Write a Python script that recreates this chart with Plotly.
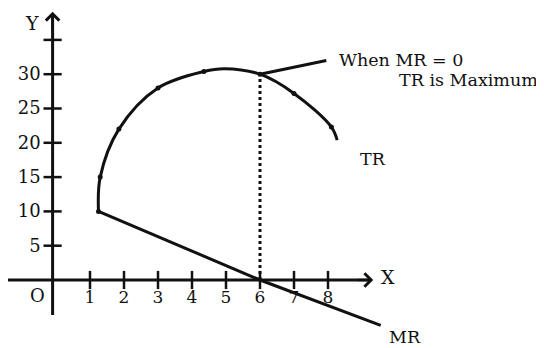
import plotly.graph_objects as go

# ---------------- data ----------------
tr_q = [1.25, 1.3, 1.85, 3.0, 4.35, 4.95, 6.0, 7.0, 8.1, 8.27]
tr_v = [10, 15, 22, 28, 30.4, 30.8, 30, 27.2, 22.3, 20.4]
tr_dot = [True, True, True, True, True, False, True, True, True, False]

mr_q = [1.25, 6.0, 9.55]
mr_v = [10, 0, -6.6]

x_ticks = [1, 2, 3, 4, 5, 6, 7, 8]
x_tick_labels = ["1", "2", "3", "4", "5", "6", "7", "8"]
y_ticks = [5, 10, 15, 20, 25, 30, 35]
y_tick_labels = ["5", "10", "15", "20", "25", "30", ""]

q_at_max = 6          # MR = 0 here
tr_max = 30           # TR at maximum
leader_end = (7.95, 32)

# axis extents / placement (layout constants)
X_AXIS_FROM, X_AXIS_TO = -1.45, 9.33
Y_AXIS_FROM, Y_AXIS_TO = -5.1, 39.1
Y_AXIS_AT = -0.1

# pixel scale of the drawing (page body has an 8px margin)
PX_X0, PX_PER_X = 48, 34.0
PX_Y0, PX_PER_Y = 272, 6.86
W, H = 544, 348

FONT = "DejaVu Serif"
INK = "#111111"

fig = go.Figure()

# axes lines
fig.add_trace(go.Scatter(x=[X_AXIS_FROM, X_AXIS_TO - 0.1], y=[0, 0], mode="lines",
                         line=dict(color=INK, width=3), hoverinfo="skip"))
fig.add_trace(go.Scatter(x=[Y_AXIS_AT, Y_AXIS_AT], y=[Y_AXIS_FROM, Y_AXIS_TO - 0.6], mode="lines",
                         line=dict(color=INK, width=3), hoverinfo="skip"))

# tick marks
fig.add_trace(go.Scatter(x=x_ticks, y=[0] * len(x_ticks), mode="markers",
                         marker=dict(symbol="line-ns", size=13, line=dict(width=2.5, color=INK)),
                         hoverinfo="skip"))
fig.add_trace(go.Scatter(x=[Y_AXIS_AT] * len(y_ticks), y=y_ticks, mode="markers",
                         marker=dict(symbol="line-ew", size=13, line=dict(width=2.5, color=INK)),
                         hoverinfo="skip"))

# tick labels
fig.add_trace(go.Scatter(x=x_ticks, y=[-2.75] * len(x_ticks), mode="text", text=x_tick_labels,
                         textposition="middle center", cliponaxis=False,
                         textfont=dict(family=FONT, size=17, color=INK), hoverinfo="skip"))
fig.add_trace(go.Scatter(x=[-0.45] * len(y_ticks), y=[v - 0.2 for v in y_ticks], mode="text",
                         text=y_tick_labels, textposition="middle left", cliponaxis=False,
                         textfont=dict(family=FONT, size=18, color=INK), hoverinfo="skip"))

# dotted vertical at MR = 0
fig.add_trace(go.Scatter(x=[q_at_max, q_at_max], y=[0, tr_max], mode="lines",
                         line=dict(color=INK, width=3, dash="dot"), hoverinfo="skip"))

# TR curve
fig.add_trace(go.Scatter(x=tr_q, y=tr_v, mode="lines",
                         line=dict(color=INK, width=3, shape="spline", smoothing=1.0), name="TR"))
fig.add_trace(go.Scatter(x=[q for q, d in zip(tr_q, tr_dot) if d], y=[v for v, d in zip(tr_v, tr_dot) if d],
                         mode="markers", marker=dict(color=INK, size=5), hoverinfo="skip"))

# MR line
fig.add_trace(go.Scatter(x=mr_q, y=mr_v, mode="lines", line=dict(color=INK, width=3), name="MR"))

# leader line for annotation
fig.add_trace(go.Scatter(x=[q_at_max, leader_end[0]], y=[tr_max, leader_end[1]], mode="lines",
                         line=dict(color=INK, width=3), hoverinfo="skip"))

annotations = [
    # arrow heads
    dict(x=X_AXIS_TO, y=0, ax=X_AXIS_TO - 0.5, ay=0, xref="x", yref="y", axref="x", ayref="y",
         showarrow=True, arrowhead=4, arrowsize=1.0, arrowwidth=2.6, arrowcolor=INK, text=""),
    dict(x=Y_AXIS_AT, y=Y_AXIS_TO, ax=Y_AXIS_AT, ay=Y_AXIS_TO - 3, xref="x", yref="y", axref="x", ayref="y",
         showarrow=True, arrowhead=4, arrowsize=1.0, arrowwidth=2.6, arrowcolor=INK, text=""),
    dict(x=9.75, y=0.4, text="X", showarrow=False, xanchor="center", yanchor="middle",
         font=dict(family=FONT, size=19, color=INK)),
    dict(x=-0.72, y=37.4, text="Y", showarrow=False, xanchor="center", yanchor="middle",
         font=dict(family=FONT, size=19, color=INK)),
    dict(x=-0.54, y=-2.2, text="O", showarrow=False, xanchor="center", yanchor="middle",
         font=dict(family=FONT, size=18, color=INK)),
    dict(x=8.26, y=32.1, text="When MR = 0", showarrow=False, xanchor="left", yanchor="middle",
         font=dict(family=FONT, size=17.5, color=INK)),
    dict(x=10.02, y=29.15, text="TR is Maximum", showarrow=False, xanchor="left", yanchor="middle",
         font=dict(family=FONT, size=17.5, color=INK)),
    dict(x=8.89, y=17.7, text="TR", showarrow=False, xanchor="left", yanchor="middle",
         font=dict(family=FONT, size=17.5, color=INK)),
    dict(x=9.73, y=-8.3, text="MR", showarrow=False, xanchor="left", yanchor="middle",
         font=dict(family=FONT, size=17.5, color=INK)),
]

fig.update_layout(
    width=W, height=H,
    margin=dict(l=0, r=0, t=0, b=0),
    paper_bgcolor="white", plot_bgcolor="white",
    showlegend=False,
    xaxis=dict(range=[-PX_X0 / PX_PER_X, (W - PX_X0) / PX_PER_X], visible=False, fixedrange=True),
    yaxis=dict(range=[(PX_Y0 - H) / PX_PER_Y, PX_Y0 / PX_PER_Y], visible=False, fixedrange=True),
    annotations=annotations,
)

fig.write_html("out.html", config={"displayModeBar": False})
